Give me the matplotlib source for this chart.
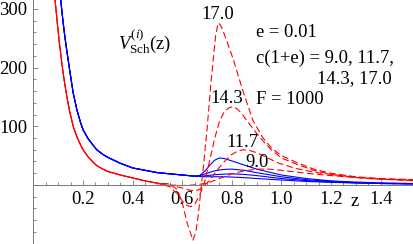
import numpy as np
import matplotlib
matplotlib.use("Agg")
import matplotlib.pyplot as plt
from matplotlib.ticker import MultipleLocator, FuncFormatter

plt.rcParams['font.family'] = ['Liberation Serif', 'DejaVu Serif']
plt.rcParams['mathtext.fontset'] = 'custom'
plt.rcParams['mathtext.rm'] = 'Liberation Serif'
plt.rcParams['mathtext.it'] = 'Liberation Serif:italic'

# c(1+e) values
c_labels = ['9.0', '11.7', '14.3', '17.0']

# solid blue curves: shared part at small z, then one tail per c
z_blue_common = [0.11, 0.115, 0.12, 0.127, 0.134, 0.145, 0.16, 0.175, 0.19, 0.2, 0.22, 0.24,
                 0.255, 0.28, 0.3, 0.35, 0.4, 0.5, 0.6, 0.65]
v_blue_common = [315, 294, 275, 251, 230, 198, 157, 128, 106, 94, 79, 68,
                 60, 52, 47, 37, 29, 21, 17, 15]

z_blue_tail = [0.67, 0.69, 0.71, 0.73, 0.75, 0.77, 0.8, 0.85, 0.9, 1.0, 1.1, 1.2, 1.3, 1.4, 1.54]
v_blue_tail = {
    '9.0':  [14.5, 14, 14, 14, 14, 14, 13.5, 12.5, 11, 8.5, 6, 4.5, 3.5, 2.5, 1.5],
    '11.7': [15, 15.5, 16.5, 17.5, 18, 18.5, 19, 18, 16, 11, 7.5, 5, 3.5, 2.5, 2],
    '14.3': [16, 18.5, 21.5, 24, 25.5, 26.5, 27, 25, 21, 14, 9, 6, 4, 3, 2],
    '17.0': [16, 23, 33, 42, 46, 45, 41, 34, 27, 17, 11, 7, 5, 3.5, 2.5],
}

# dashed red curves: shared part at small z, then one tail per c
z_red_common = [0.087, 0.095, 0.105, 0.115, 0.125, 0.134, 0.145, 0.16, 0.175, 0.19, 0.2,
                0.22, 0.24, 0.255, 0.28, 0.3, 0.35, 0.4, 0.45, 0.5]
v_red_common = [315, 280, 240, 205, 175, 152, 127, 100, 82, 68, 60,
                48, 39, 33, 27, 23, 17, 12, 7, 3]

z_red_9 = [0.55, 0.6, 0.65, 0.7, 0.75, 0.8, 0.85, 0.9, 0.95, 1.0, 1.1, 1.2, 1.35, 1.54]
v_red_9 = [0, -1, 0, 3, 11, 19, 24, 27, 27, 25, 20, 16, 11, 7]

z_red_117 = [0.55, 0.6, 0.63, 0.655, 0.68, 0.71, 0.74, 0.77, 0.8, 0.825, 0.845, 0.87, 0.9,
             0.95, 0.99, 1.06, 1.13, 1.2, 1.3, 1.4, 1.54]
v_red_117 = [-1, -5, -9, -10, -5, 8, 25, 40, 52, 58, 60, 59, 55,
             45, 37, 28, 22, 18, 13, 10, 8]

z_red_143 = [0.55, 0.58, 0.6, 0.62, 0.635, 0.65, 0.67, 0.69, 0.71, 0.73, 0.75, 0.77, 0.79,
             0.805, 0.82, 0.84, 0.86, 0.9, 0.93, 0.96, 1.0, 1.063, 1.13, 1.2, 1.3, 1.4, 1.54]
v_red_143 = [-3, -15, -27, -35, -37, -33, -18, 5, 40, 78, 108, 125, 132,
             133, 130, 122, 110, 88, 73, 60, 46, 35, 25, 18, 13, 10, 8]

z_red_17 = [0.55, 0.58, 0.6, 0.62, 0.643, 0.655, 0.665, 0.675, 0.685, 0.7, 0.715, 0.73,
            0.735, 0.745, 0.755, 0.765, 0.78, 0.805, 0.845, 0.885, 0.926, 0.96, 1.0,
            1.063, 1.13, 1.2, 1.3, 1.4, 1.54]
v_red_17 = [2, -8, -30, -65, -94, -80, -50, -10, 30, 94, 170, 235,
            255, 276, 272, 262, 245, 215, 160, 110, 80, 63, 50,
            38, 27, 20, 14, 11, 9]

red_tails = {
    '9.0': (z_red_9, v_red_9),
    '11.7': (z_red_117, v_red_117),
    '14.3': (z_red_143, v_red_143),
    '17.0': (z_red_17, v_red_17),
}

fig = plt.figure(figsize=(4.14, 2.44), dpi=100)
ax = fig.add_axes([33.5 / 414, 0, 1 - 33.5 / 414, 1])

for i, c in enumerate(c_labels):
    zb = z_blue_common + z_blue_tail
    vb = v_blue_common + v_blue_tail[c]
    ax.plot(zb, vb, color='#0000ff', lw=0.8)

for i, c in enumerate(c_labels):
    zr = z_red_common + red_tails[c][0]
    vr = v_red_common + red_tails[c][1]
    # shifted dash phase so the overlapping part looks nearly solid
    ax.plot(zr, vr, color='#ff0000', lw=0.8, linestyle=(i * 2.25, (6, 3)))

ax.set_xlim(0, 1.535)
ax.set_ylim(-100.5, 315)

ax.spines['top'].set_visible(False)
ax.spines['right'].set_visible(False)
ax.spines['bottom'].set_position(('data', 0))
ax.spines['left'].set_position(('data', 0))
for s in ['left', 'bottom']:
    ax.spines[s].set_color('#777777')
    ax.spines[s].set_linewidth(0.7)

ax.xaxis.set_major_locator(MultipleLocator(0.2))
ax.xaxis.set_minor_locator(MultipleLocator(0.05))
ax.yaxis.set_major_locator(MultipleLocator(100))
ax.yaxis.set_minor_locator(MultipleLocator(20))
ax.xaxis.set_major_formatter(FuncFormatter(lambda v, p: '%.1f' % v if v > 0.01 else ''))
ax.yaxis.set_major_formatter(FuncFormatter(lambda v, p: '%d' % v if v > 1 else ''))
ax.tick_params(which='both', direction='in', color='#777777', labelsize=13.4, width=0.6)
ax.tick_params(which='major', length=3.5, pad=4.5)
ax.tick_params(which='minor', length=2)
ax.patch.set_alpha(0)

fs = 13.4
ax.text(1.296, -13, 'z', fontsize=fs, ha='center', va='top')

ax.text(0.341, 244, r'$V^{(i)}_{\mathrm{Sch}}(\mathrm{z})$', fontsize=fs, ha='left', va='center')

ax.text(0.744, 290, '17.0', fontsize=fs, ha='center', va='center')
ax.text(0.780, 148, '14.3', fontsize=fs, ha='center', va='center')
ax.text(0.841, 73, '11.7', fontsize=fs, ha='center', va='center')
ax.text(0.901, 37.5, '9.0', fontsize=fs, ha='center', va='center')

ax.text(0.897, 259, 'e = 0.01', fontsize=fs, ha='left', va='center')
ax.text(0.897, 216, 'c(1+e) = 9.0, 11.7,', fontsize=fs, ha='left', va='center')
ax.text(1.143, 182, '14.3, 17.0', fontsize=fs, ha='left', va='center')
ax.text(0.897, 145, 'F = 1000', fontsize=fs, ha='left', va='center')

fig.savefig('out.png', dpi=100)
